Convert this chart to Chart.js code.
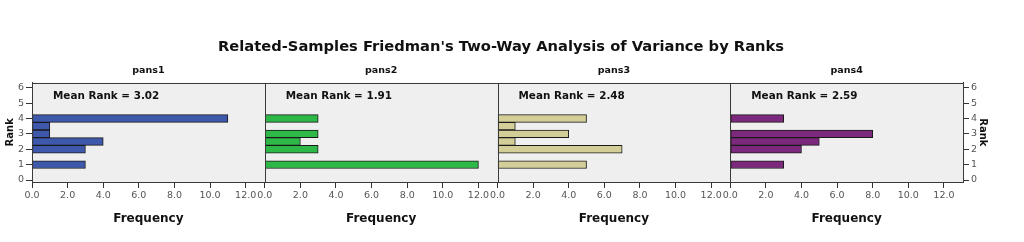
<!DOCTYPE html>
<html><head><meta charset="utf-8">
<script src="https://cdn.jsdelivr.net/npm/chart.js@4.4.0/dist/chart.umd.min.js"></script>
<style>html,body{margin:0;padding:0;background:#fff}canvas{display:block}</style>
</head><body>
<canvas id="c" width="1024" height="242"></canvas>
<script>
const chartTitle = "Related-Samples Friedman's Two-Way Analysis of Variance by Ranks";
const panels = ["pans1", "pans2", "pans3", "pans4"];
const ranks = [1, 1.5, 2, 2.5, 3, 3.5, 4];
const freqPans1 = [3, 0, 3, 4, 1, 1, 11];
const freqPans2 = [12, 0, 3, 2, 3, 0, 3];
const freqPans3 = [5, 0, 7, 1, 4, 1, 5];
const freqPans4 = [3, 0, 4, 5, 8, 0, 3];
const meanRanks = [3.02, 1.91, 2.48, 2.59];
const rankTicks = [0, 1, 2, 3, 4, 5, 6];
const freqTicks = [0, 2, 4, 6, 8, 10, 12];
const freqTickLabels = ["0.0", "2.0", "4.0", "6.0", "8.0", "10.0", "12.0"];
const colors = ["#3E58AC", "#2EB848", "#D3CE97", "#7C287D"];

const allFreqs = [freqPans1, freqPans2, freqPans3, freqPans4];
const FONT = "DejaVu Sans";

const datasets = panels.map((p, i) => ({
  label: p,
  data: ranks.map((r, j) => ({ x: allFreqs[i][j], y: r })),
  xAxisID: 'x' + (i + 1),
  yAxisID: 'y',
  backgroundColor: colors[i],
  borderColor: '#1a1a1a',
  borderWidth: 1,
  borderSkipped: false,
  grouped: false,
  barPercentage: 1,
  categoryPercentage: 1
}));

const scales = {};
panels.forEach((p, i) => {
  scales['x' + (i + 1)] = {
    type: 'linear', position: 'bottom', stack: 'bottom', stackWeight: 1,
    min: 0, max: 13.07,
    afterBuildTicks: s => { s.ticks = freqTicks.map(v => ({ value: v })); },
    afterFit: s => { s.height = 60; },
    ticks: {
      callback: (v, idx) => freqTickLabels[idx],
      font: { family: FONT, size: 9.5 }, color: '#555', padding: 2,
      maxRotation: 0, autoSkip: false
    },
    grid: { display: true, drawOnChartArea: false, drawTicks: true, tickLength: 6, color: '#333' },
    border: { display: true, color: '#333' },
    title: { display: true, text: 'Frequency', font: { family: FONT, size: 12, weight: 'bold' }, color: '#111', padding: { top: 0, bottom: 16 } }
  };
});
// top boxes are laid out in reverse definition order, so define them last-to-first
for (let i = panels.length - 1; i >= 0; i--) {
  scales['t' + (i + 1)] = {
    type: 'linear', position: 'top', stack: 'top', stackWeight: 1,
    afterFit: s => { s.height = 27; },
    ticks: { display: false },
    grid: { display: false },
    border: { display: false },
    title: { display: true, text: panels[i], font: { family: FONT, size: 9.5, weight: 'bold' }, color: '#111', padding: { top: 9, bottom: 0 } }
  };
}
const yCommon = {
  type: 'linear', min: -0.13, max: 6.33, offset: false,
  afterBuildTicks: s => { s.ticks = rankTicks.map(v => ({ value: v })); },
  ticks: { font: { family: FONT, size: 9.5 }, color: '#555', padding: 2, autoSkip: false },
  grid: { display: true, drawOnChartArea: false, drawTicks: true, tickLength: 6, color: '#333', offset: false },
  border: { display: true, color: '#333' }
};
scales.y = Object.assign({}, yCommon, {
  position: 'left',
  afterFit: s => { s.width = 32; },
  title: { display: true, text: 'Rank', font: { family: FONT, size: 10, weight: 'bold' }, color: '#111', padding: { top: 4, bottom: 0 } }
});
scales.y2 = Object.assign({}, yCommon, {
  position: 'right',
  afterFit: s => { s.width = 39; },
  title: { display: true, text: 'Rank', font: { family: FONT, size: 10, weight: 'bold' }, color: '#111', padding: { top: 13, bottom: 0 } }
});

const framePlugin = {
  id: 'frame',
  beforeDraw(chart) {
    const { ctx, chartArea: a } = chart;
    ctx.save();
    ctx.fillStyle = '#efefef';
    ctx.fillRect(a.left, a.top, a.right - a.left, a.bottom - a.top);
    ctx.restore();
  },
  afterDatasetsDraw(chart) {
    const { ctx, chartArea: a } = chart;
    ctx.save();
    panels.forEach((p, i) => {
      const s = chart.scales['x' + (i + 1)];
      ctx.strokeStyle = '#3a3a3a';
      ctx.lineWidth = 1;
      ctx.strokeRect(Math.round(s.left) + 0.5, Math.round(a.top) + 0.5,
        Math.round(s.right) - Math.round(s.left), Math.round(a.bottom) - Math.round(a.top));
      ctx.fillStyle = '#111';
      ctx.font = 'bold 10.4px "' + FONT + '"';
      ctx.textBaseline = 'middle';
      ctx.textAlign = 'left';
      ctx.fillText('Mean Rank = ' + meanRanks[i].toFixed(2), s.left + 21, a.top + 14);
    });
    ctx.restore();
  }
};

new Chart(document.getElementById('c'), {
  type: 'bar',
  data: { datasets },
  options: {
    indexAxis: 'y',
    responsive: false,
    animation: false,
    devicePixelRatio: 1,
    layout: { padding: { top: 0, left: 0, bottom: 0, right: 22 } },
    plugins: {
      legend: { display: false },
      tooltip: { enabled: false },
      title: { display: true, text: chartTitle, font: { family: FONT, size: 14.7, weight: 'bold' }, color: '#111', padding: { top: 38, bottom: 0 } }
    },
    scales
  },
  plugins: [framePlugin]
});
</script>
</body></html>
